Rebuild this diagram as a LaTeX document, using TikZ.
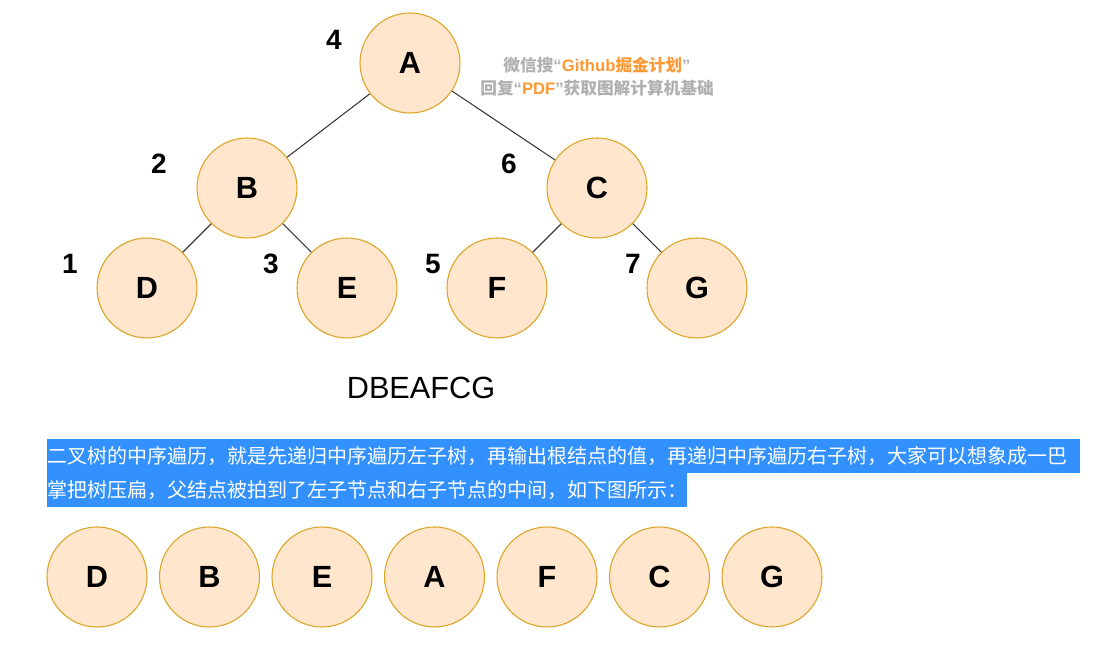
\documentclass[tikz,border=0pt]{standalone}
\usepackage{fontspec}
\setmainfont{Liberation Sans}
\newfontfamily\cjk{Noto Sans CJK SC}
\definecolor{nodefill}{HTML}{FFE6CC}
\definecolor{nodedraw}{HTML}{DCA526}
\definecolor{edgecol}{HTML}{3A3A3A}
\definecolor{hlblue}{HTML}{3391FF}
\definecolor{wmgray}{HTML}{B0B0B0}
\definecolor{wmorange}{HTML}{FF9933}
\begin{document}
\begin{tikzpicture}[x=0.75pt,y=-0.75pt,
  treenode/.style={circle,draw=nodedraw,fill=nodefill,line width=0.8pt,minimum size=75pt,inner sep=0pt,font=\fontsize{23}{27}\selectfont\bfseries},
  ordnum/.style={font=\fontsize{21}{25}\selectfont\bfseries,inner sep=0pt},
  edge/.style={draw=edgecol,line width=0.8pt},
  cjktext/.style={anchor=west,inner sep=0pt,text=white,font=\cjk\fontsize{15}{18}\selectfont}]
\useasboundingbox (0,0) rectangle (1108,655);
\fill[white] (0,0) rectangle (1108,655);
% tree
\node[treenode] (A) at (410,63) {A};
\node[treenode] (B) at (247,188) {B};
\node[treenode] (C) at (597,188) {C};
\node[treenode] (D) at (147,288) {D};
\node[treenode] (E) at (347,288) {E};
\node[treenode] (F) at (497,288) {F};
\node[treenode] (G) at (697,288) {G};
\draw[edge] (A) -- (B);
\draw[edge] (A) -- (C);
\draw[edge] (B) -- (D);
\draw[edge] (B) -- (E);
\draw[edge] (C) -- (F);
\draw[edge] (C) -- (G);
% order numbers
\node[ordnum] (n4) at (334,40) {4};
\node[ordnum] (n2) at (159,164) {2};
\node[ordnum] (n6) at (509,164) {6};
\node[ordnum] (n1) at (70,264) {1};
\node[ordnum] (n3) at (271,264) {3};
\node[ordnum] (n5) at (433,264) {5};
\node[ordnum] (n7) at (633,264) {7};
% watermark
\node[inner sep=0pt,font=\fontsize{12.5}{15}\selectfont\bfseries,text=wmgray] (wm1) at (597,65)
  {{\cjk 微信搜}“\textcolor{wmorange}{Github{\cjk 掘金计划}}”};
\node[inner sep=0pt,font=\fontsize{12.5}{15}\selectfont\bfseries,text=wmgray] (wm2) at (597,88)
  {{\cjk 回复}“\textcolor{wmorange}{PDF}”{\cjk 获取图解计算机基础}};
% result
\node[inner sep=0pt,font=\fontsize{23}{27}\selectfont] (res) at (421,388) {DBEAFCG};
% highlighted paragraph
\fill[hlblue] (47,439) rectangle (1080,473);
\fill[hlblue] (47,473) rectangle (687,507);
\node[cjktext] (p1) at (47,456) {二叉树的中序遍历，就是先递归中序遍历左子树，再输出根结点的值，再递归中序遍历右子树，大家可以想象成一巴};
\node[cjktext] (p2) at (47,490) {掌把树压扁，父结点被拍到了左子节点和右子节点的中间，如下图所示：};
% flattened
\node[treenode] (fD) at (97,577) {D};
\node[treenode] (fB) at (209.5,577) {B};
\node[treenode] (fE) at (322,577) {E};
\node[treenode] (fA) at (434.5,577) {A};
\node[treenode] (fF) at (547,577) {F};
\node[treenode] (fC) at (659.5,577) {C};
\node[treenode] (fG) at (772,577) {G};
\end{tikzpicture}
\end{document}
